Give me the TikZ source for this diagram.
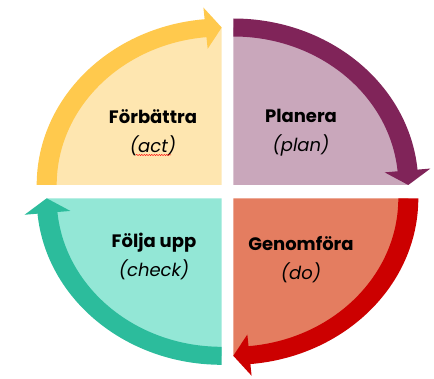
\documentclass[tikz,border=0pt]{standalone}
\usepackage{fontspec}
\setmainfont{Poppins}
\usepackage{xcolor}
\usepackage{tikz}
\usetikzlibrary{positioning,calc,decorations.pathmorphing}

\definecolor{actband}{HTML}{FFC94D}
\definecolor{actfill}{HTML}{FEE6B0}
\definecolor{planband}{HTML}{802459}
\definecolor{planfill}{HTML}{C9A7BB}
\definecolor{doband}{HTML}{CC0000}
\definecolor{dofill}{HTML}{E47D60}
\definecolor{checkband}{HTML}{2CBC9C}
\definecolor{checkfill}{HTML}{93E7D6}

\begin{document}
\begin{tikzpicture}[
    x=1pt, y=1pt,
    phase/.style={align=center, font=\fontsize{18}{29}\selectfont, text=black},
    quarter/.style={yscale=0.9}
]
    \useasboundingbox (0,0) rectangle (434,378);

    \coordinate (tl) at (221.7,193);
    \coordinate (tr) at (233.3,193);
    \coordinate (bl) at (221.7,179.7);
    \coordinate (br) at (233.3,179.7);

    % Forbattra (act)
    \begin{scope}[shift={(tl)}, quarter]
        \fill[actfill] (0,0) -- (90:175) arc[start angle=90, end angle=180, radius=175] -- cycle;
        \fill[actband] (180:185) arc[start angle=180, end angle=95.3, radius=185]
            -- (95.3:198) -- (90:175) -- (95.3:152) -- (95.3:165)
            arc[start angle=95.3, end angle=180, radius=165] -- cycle;
    \end{scope}

    % Planera (plan)
    \begin{scope}[shift={(tr)}, quarter]
        \fill[planfill] (0,0) -- (0:175) arc[start angle=0, end angle=90, radius=175] -- cycle;
        \fill[planband] (90:185) arc[start angle=90, end angle=5.3, radius=185]
            -- (5.3:198) -- (0:175) -- (5.3:152) -- (5.3:165)
            arc[start angle=5.3, end angle=90, radius=165] -- cycle;
    \end{scope}

    % Genomfora (do)
    \begin{scope}[shift={(br)}, quarter]
        \fill[dofill] (0,0) -- (-90:175) arc[start angle=-90, end angle=0, radius=175] -- cycle;
        \fill[doband] (0:185) arc[start angle=0, end angle=-84.7, radius=185]
            -- (-84.7:198) -- (-90:175) -- (-84.7:152) -- (-84.7:165)
            arc[start angle=-84.7, end angle=0, radius=165] -- cycle;
    \end{scope}

    % Folja upp (check)
    \begin{scope}[shift={(bl)}, quarter]
        \fill[checkfill] (0,0) -- (180:175) arc[start angle=180, end angle=270, radius=175] -- cycle;
        \fill[checkband] (-90:185) arc[start angle=-90, end angle=-174.7, radius=185]
            -- (-174.7:198) -- (180:175) -- (-174.7:152) -- (-174.7:165)
            arc[start angle=-174.7, end angle=-90, radius=165] -- cycle;
    \end{scope}

    \node[phase] (act) at (153,245) {\textbf{Förbättra}\\\textit{(act)}};
    \node[phase] (plan) at (301,245) {\textbf{Planera}\\\textit{(plan)}};
    \node[phase] (check) at (154,122) {\textbf{Följa upp}\\\textit{(check)}};
    \node[phase] (do) at (301,118.5) {\textbf{Genomföra}\\\textit{(do)}};

    \draw[red, line width=0.5pt, decorate, decoration={snake, segment length=2.5pt, amplitude=0.6pt}]
        (136,223) -- (171,223);
\end{tikzpicture}
\end{document}
